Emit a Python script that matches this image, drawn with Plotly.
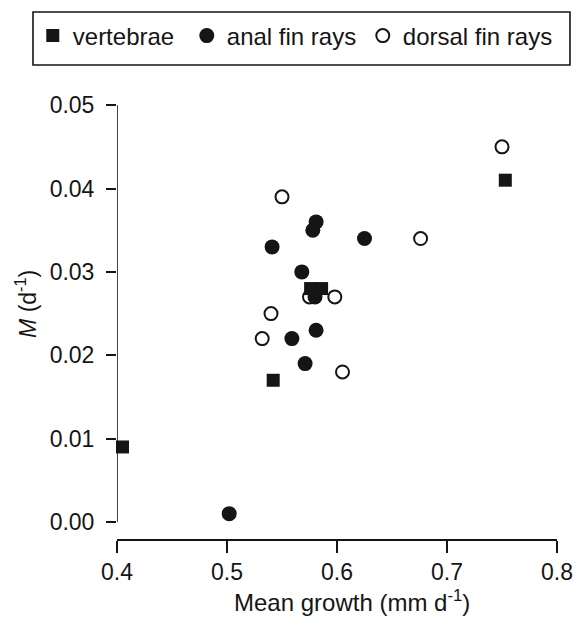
import plotly.graph_objects as go

# Data
vert_x = [0.405, 0.542, 0.576, 0.586, 0.753]
vert_y = [0.009, 0.017, 0.028, 0.028, 0.041]

anal_x = [0.502, 0.541, 0.568, 0.578, 0.581, 0.625, 0.580, 0.581, 0.559, 0.571]
anal_y = [0.001, 0.033, 0.030, 0.035, 0.036, 0.034, 0.027, 0.023, 0.022, 0.019]

dors_x = [0.550, 0.575, 0.598, 0.540, 0.532, 0.605, 0.676, 0.750]
dors_y = [0.039, 0.027, 0.027, 0.025, 0.022, 0.018, 0.034, 0.045]

x_ticks = [0.4, 0.5, 0.6, 0.7, 0.8]
x_labels = ["0.4", "0.5", "0.6", "0.7", "0.8"]
y_ticks = [0.00, 0.01, 0.02, 0.03, 0.04, 0.05]
y_labels = ["0.00", "0.01", "0.02", "0.03", "0.04", "0.05"]

x_title = "Mean growth (mm d<sup>-1</sup>)"
y_title = "<i>M</i> (d<sup>-1</sup>)"

FONT = "Liberation Sans, Arial, Helvetica, sans-serif"
INK = "#151515"
FS = 23

fig = go.Figure()
fig.add_trace(go.Scatter(
    x=vert_x, y=vert_y, mode="markers", name="vertebrae", legendwidth=109,
    marker=dict(symbol="square", size=13, color=INK, line=dict(width=0)),
    cliponaxis=False))
fig.add_trace(go.Scatter(
    x=anal_x, y=anal_y, mode="markers", name="anal fin rays", legendwidth=131,
    marker=dict(symbol="circle", size=15, color=INK, line=dict(width=0)),
    cliponaxis=False))
fig.add_trace(go.Scatter(
    x=dors_x, y=dors_y, mode="markers", name="dorsal fin rays", legendwidth=155,
    marker=dict(symbol="circle-open", size=13, color=INK, line=dict(width=2, color=INK)),
    cliponaxis=False))

# y-axis line spanning only the labelled range (offset axis style)
fig.add_shape(type="line", xref="x", yref="y",
              x0=x_ticks[0], x1=x_ticks[0], y0=y_ticks[0], y1=y_ticks[-1],
              line=dict(color=INK, width=1.6), layer="above")
# legend frame
fig.add_shape(type="rect", xref="paper", yref="paper",
              x0=-0.1909, x1=1.0295, y0=1.0822, y1=1.2032,
              line=dict(color=INK, width=1.6), fillcolor="rgba(0,0,0,0)", layer="above")

# axis titles
fig.add_annotation(text=x_title, xref="paper", yref="paper", x=0.534, y=-0.141,
                   showarrow=False, xanchor="center", yanchor="middle",
                   font=dict(size=24, family=FONT, color=INK))
fig.add_annotation(text=y_title, xref="paper", yref="paper", x=-0.207, y=0.5365,
                   showarrow=False, xanchor="center", yanchor="middle", textangle=-90,
                   font=dict(size=FS, family=FONT, color=INK))

fig.update_layout(
    width=574, height=617,
    margin=dict(l=117, r=17, t=101, b=78),
    paper_bgcolor="white", plot_bgcolor="white",
    font=dict(family=FONT, size=FS, color=INK),
    showlegend=True,
    legend=dict(
        orientation="h", x=-0.1914, xanchor="left", y=1.1484, yanchor="middle",
        borderwidth=0, bgcolor="rgba(0,0,0,0)",
        font=dict(size=24, family=FONT, color=INK),
        itemsizing="trace",
    ),
    xaxis=dict(
        range=[0.4, 0.8], tickvals=x_ticks, ticktext=x_labels, automargin=False,
        showgrid=False, zeroline=False, showline=True, linecolor=INK, linewidth=1.6,
        ticks="outside", ticklen=12, tickwidth=1.6, tickcolor=INK,
        tickfont=dict(size=FS), ticklabelstandoff=0,
    ),
    yaxis=dict(
        range=[-0.00204, 0.0505], tickvals=y_ticks, ticktext=y_labels, automargin=False,
        showgrid=False, zeroline=False, showline=False,
        ticks="outside", ticklen=10, tickwidth=1.6, tickcolor=INK,
        tickfont=dict(size=FS), ticklabelstandoff=7,
    ),
)

fig.write_html("out.html",
               config={"displayModeBar": False},
               post_script="document.body.style.margin='0px';"
                           "document.documentElement.style.overflow='hidden';")
